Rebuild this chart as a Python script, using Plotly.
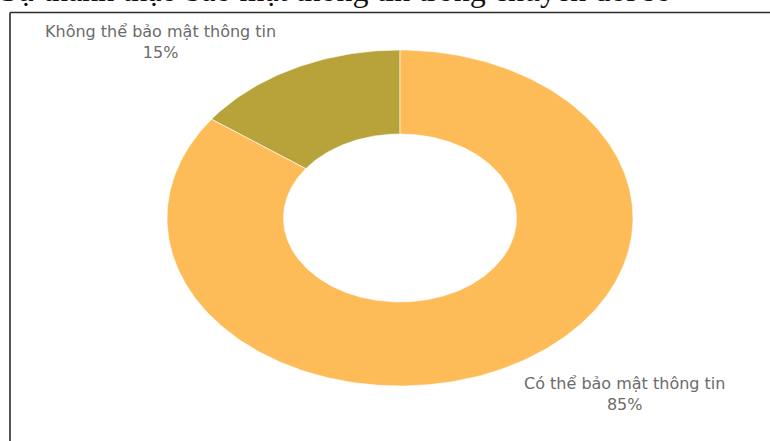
import numpy as np
import plotly.graph_objects as go

# ---- data ----
labels = ["Không thể bảo mật thông tin", "Có thể bảo mật thông tin"]
values = [15, 85]
colors = ["#B8A33B", "#FEBC59"]
title_text = "Sự thành thạo bảo mật thông tin trong chuyển đổi số"

# ---- layout constants (pixels) ----
W, H = 770, 441
cx, cy = 400, 218          # donut centre in pixels
rx, ry = 233, 168          # outer radii in pixels (elliptical donut)
hole = 0.5

fig = go.Figure()

total = float(sum(values))
t0 = 0.0
annotations = []
for lab, val, col in zip(labels, values, colors):
    frac = val / total
    t1 = t0 + frac
    ts = np.linspace(t0, t1, max(int(frac * 400), 8))
    ox, oy = -np.sin(2 * np.pi * ts), np.cos(2 * np.pi * ts)
    xs = np.concatenate([ox, hole * ox[::-1], [ox[0]]])
    ys = np.concatenate([oy, hole * oy[::-1], [oy[0]]])
    fig.add_trace(go.Scatter(
        x=xs, y=ys, mode="lines", fill="toself", fillcolor=col,
        line=dict(color="white", width=0.6), hoverinfo="text",
        text=f"{lab}: {val}%", showlegend=False,
    ))
    tm = (t0 + t1) / 2
    mx, my = -np.sin(2 * np.pi * tm) * 1.15, np.cos(2 * np.pi * tm) * 1.03
    annotations.append(dict(
        x=mx, y=my, xref="x", yref="y",
        text=f"{lab}<br>{round(100 * frac)}%",
        showarrow=False, xanchor="right" if mx < 0 else "left",
        yanchor="bottom" if my > 0 else "top",
        align="center",
        font=dict(family="DejaVu Sans", size=16, color="#6b6b6b"),
    ))
    t0 = t1

# title line of the document (clipped at top)
annotations.append(dict(
    x=673 / W, y=1 + 10 / H, xref="paper", yref="paper",
    text=title_text, showarrow=False, xanchor="right", yanchor="middle",
    font=dict(family="Liberation Serif", size=32, color="#111"),
))

fig.update_layout(
    width=W, height=H,
    margin=dict(l=0, r=0, t=0, b=0),
    paper_bgcolor="white", plot_bgcolor="white",
    xaxis=dict(range=[-cx / rx, (W - cx) / rx], visible=False, fixedrange=True),
    yaxis=dict(range=[-(H - cy) / ry, cy / ry], visible=False, fixedrange=True),
    annotations=annotations,
    shapes=[
        dict(type="line", xref="paper", yref="paper",
             x0=10 / W, x1=1, y0=1 - 12.5 / H, y1=1 - 12.5 / H,
             line=dict(color="#2b2b2b", width=1.6)),
        dict(type="line", xref="paper", yref="paper",
             x0=10 / W, x1=10 / W, y0=0, y1=1 - 12.5 / H,
             line=dict(color="#2b2b2b", width=1.6)),
    ],
    showlegend=False,
)

fig.write_html(
    "out.html",
    config={"displayModeBar": False},
    post_script="document.body.style.margin='0';document.body.style.overflow='hidden';",
)
